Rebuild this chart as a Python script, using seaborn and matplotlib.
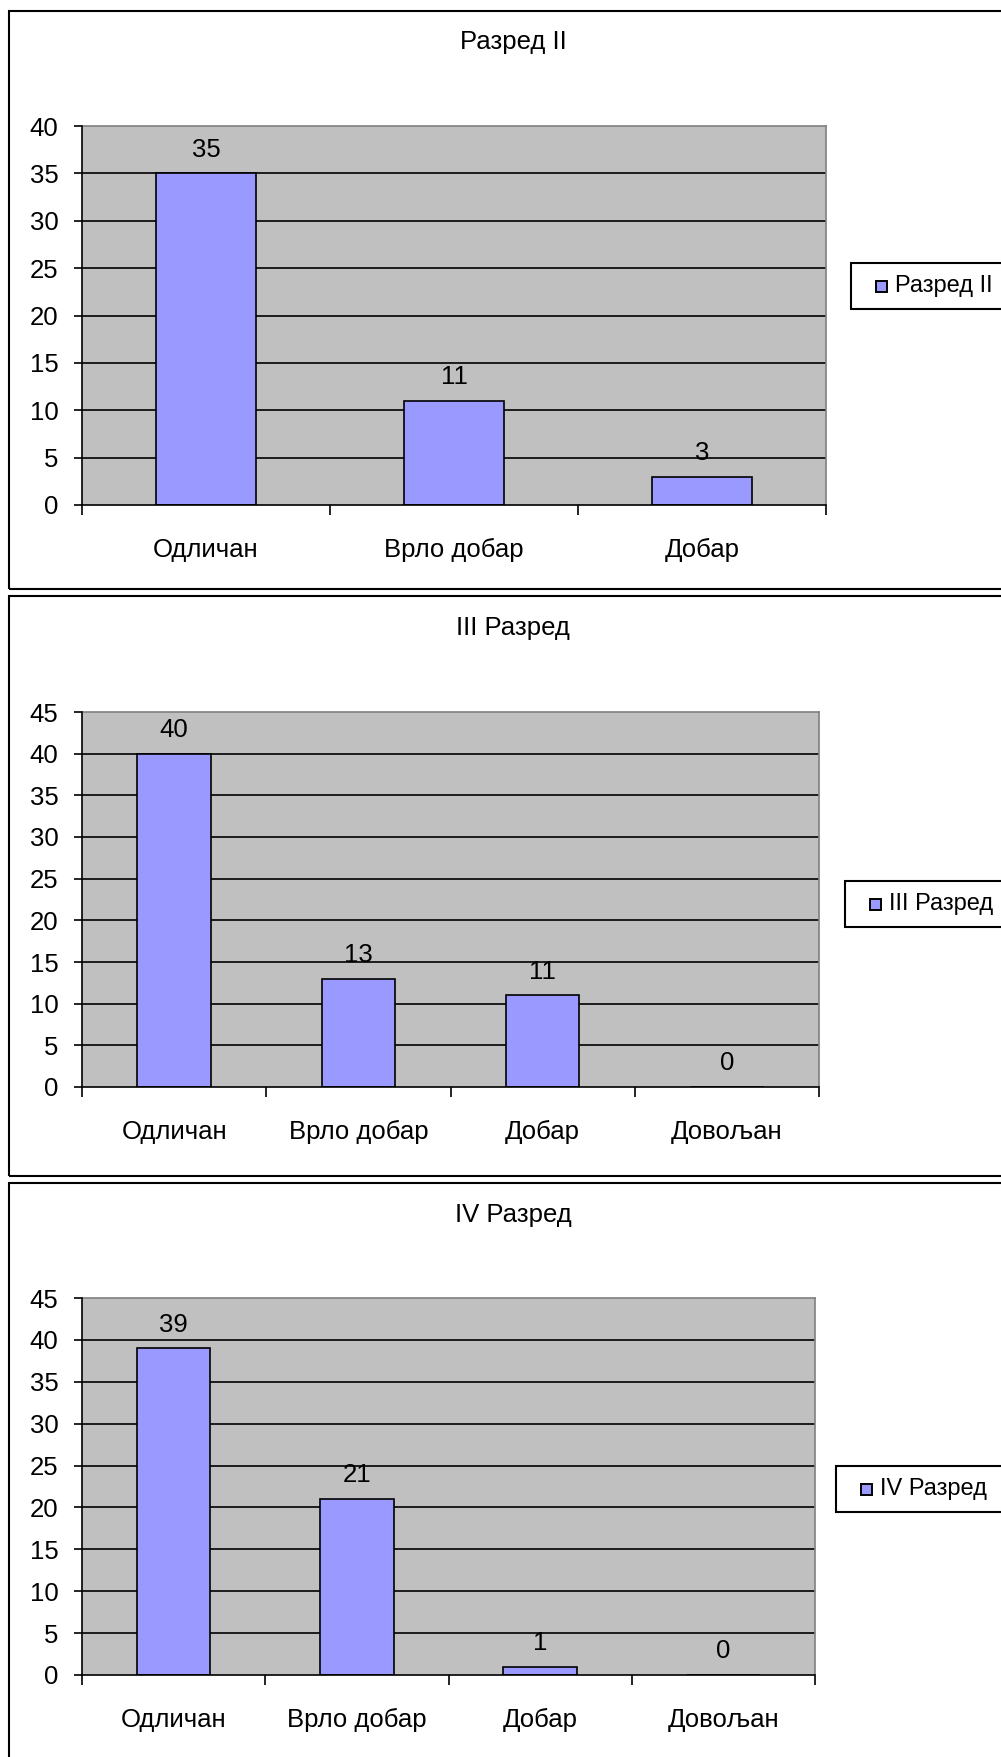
import matplotlib
matplotlib.use("Agg")
import matplotlib.pyplot as plt
import seaborn as sns
from matplotlib.patches import Rectangle

sns.set_theme(style="white")
plt.rcParams['font.family'] = ['Liberation Sans', 'DejaVu Sans']
plt.rcParams['text.color'] = 'black'
plt.rcParams['xtick.color'] = 'black'
plt.rcParams['ytick.color'] = 'black'

# Data
titles = ["Разред II", "III Разред", "IV Разред"]
cats1 = ["Одличан", "Врло добар", "Добар"]
vals1 = [35, 11, 3]
cats2 = ["Одличан", "Врло добар", "Добар", "Довољан"]
vals2 = [40, 13, 11, 0]
cats3 = ["Одличан", "Врло добар", "Добар", "Довољан"]
vals3 = [39, 21, 1, 0]
ymax = [40, 45, 45]

W, H = 1001, 1757
fig = plt.figure(figsize=(W / 100, H / 100), dpi=100)

BAR = "#9999FF"
BG = "#C0C0C0"
FS = 18.5
LFS = 17

# pixel geometry (left, top, right, bottom)
panels = [(9, 11, 1010, 589), (9, 596, 1010, 1176), (9, 1183, 1010, 1770)]
axes_px = [(82, 126, 826, 505), (82, 712, 819, 1087), (82, 1298, 815, 1675)]
title_y = [42, 628, 1215]
legend_px = [(851, 286), (845, 904), (836, 1489)]  # left, center y
legend_h = 46

def fx(x):
    return x / W

def fy(y):
    return 1 - y / H

datasets = [(cats1, vals1), (cats2, vals2), (cats3, vals3)]

for i, ((cats, vals), title) in enumerate(zip(datasets, titles)):
    l, t, r, b = panels[i]
    fig.patches.append(Rectangle((fx(l), fy(b)), fx(r - l), (b - t) / H,
                                 transform=fig.transFigure, fill=False,
                                 edgecolor="black", linewidth=1.5, zorder=0))
    fig.text(fx(513), fy(title_y[i]), title, ha="center", va="center", fontsize=FS)

    al, at, ar, ab = axes_px[i]
    ax = fig.add_axes([fx(al), fy(ab), fx(ar - al), (ab - at) / H])
    ax.set_facecolor(BG)
    sns.barplot(x=cats, y=vals, color=BAR, edgecolor="black", linewidth=1.2,
                width=0.4, saturation=1, ax=ax, zorder=3)
    n = len(cats)
    ax.set_xlim(-0.5, n - 0.5)
    ax.set_ylim(0, ymax[i])
    ax.set_yticks(range(0, ymax[i] + 1, 5))
    for yv in range(5, ymax[i], 5):
        ax.axhline(yv, color="black", linewidth=1.2, zorder=1)
    ax.set_xticks(range(n))
    ax.set_xticklabels(cats, fontsize=FS)
    ax.set_xticks([k - 0.5 for k in range(n + 1)], minor=True)
    ax.tick_params(axis="x", which="major", length=0, pad=24)
    ax.tick_params(axis="x", which="minor", length=7, width=1.2, color="black", direction="out", bottom=True)
    ax.tick_params(axis="y", length=6, width=1.2, color="black", direction="out", left=True, labelsize=FS, pad=11)
    ax.set_xlabel("")
    ax.set_ylabel("")
    for side in ["top", "right"]:
        ax.spines[side].set_color("#808080")
        ax.spines[side].set_linewidth(1.2)
    for side in ["left", "bottom"]:
        ax.spines[side].set_color("black")
        ax.spines[side].set_linewidth(1.2)
        ax.spines[side].set_zorder(5)
    for k, v in enumerate(vals):
        ax.annotate(str(v), (k, v), xytext=(0, 17), textcoords="offset points",
                    ha="center", va="center", fontsize=FS, zorder=6)

    lx, lcy = legend_px[i]
    fig.patches.append(Rectangle((fx(lx), fy(lcy + legend_h / 2)), fx(W - lx + 20), legend_h / H,
                                 transform=fig.transFigure, fill=True, facecolor="white",
                                 edgecolor="black", linewidth=1.5, zorder=2))
    sq = 11
    sx = lx + 25
    fig.patches.append(Rectangle((fx(sx), fy(lcy + sq / 2)), fx(sq), sq / H,
                                 transform=fig.transFigure, facecolor=BAR,
                                 edgecolor="black", linewidth=1.4, zorder=3))
    fig.text(fx(sx + sq + 8), fy(lcy), title, ha="left", va="center", fontsize=LFS, zorder=4)

fig.savefig("out.png", dpi=100)
